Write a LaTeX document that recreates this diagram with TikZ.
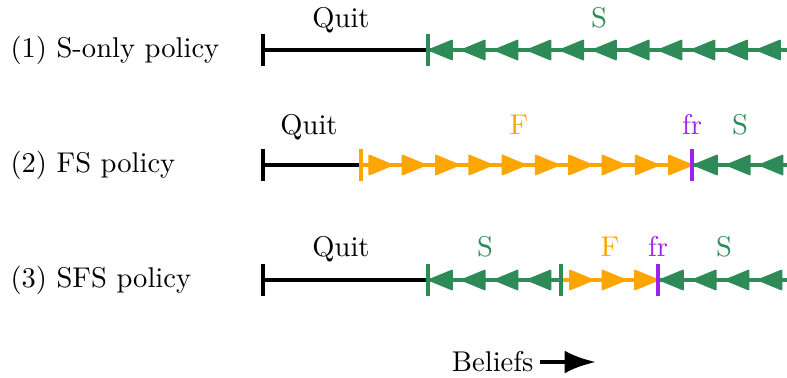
\documentclass[tikz,border=0pt]{standalone}
\usetikzlibrary{arrows.meta}
\definecolor{sgreen}{RGB}{46,139,87}
\definecolor{sorange}{RGB}{255,165,0}
\definecolor{spurple}{RGB}{160,32,240}
\tikzset{
  quitline/.style={line width=1.4pt, black},
  segline/.style={line width=1.1pt},
  tickmark/.style={line width=1.4pt},
  lbl/.style={inner sep=0pt, anchor=base},
  rowlbl/.style={inner sep=0pt, anchor=west},
  tri/.style={line width=0.6pt, line join=round},
}
% left-pointing triangle with its tip at (#1,#2)
\newcommand{\ltri}[3]{\filldraw[tri, #3] (#1+1,#2) -- ++(23,-9.5) -- ++(0,19) -- cycle;}
% right-pointing triangle with its tip at (#1,#2)
\newcommand{\rtri}[3]{\filldraw[tri, #3] (#1-1,#2) -- ++(-23,-9.5) -- ++(0,19) -- cycle;}
\newcommand{\vtick}[3]{\draw[tickmark, #3] (#1,#2-16) -- (#1,#2+16);}
\begin{document}
\begin{tikzpicture}[x=0.35pt, y=-0.35pt]
\useasboundingbox (0,0) rectangle (787,378);

% ---- row 1: S-only policy
\node[rowlbl] (r1) at (10,50) {(1) S-only policy};
\draw[quitline] (263,50) -- (428,50);
\draw[segline, sgreen] (428,50) -- (787,50);
\foreach \k in {0,...,10} { \ltri{428+\k*32.8}{50}{sgreen} }
\vtick{263}{50}{black}
\vtick{428}{50}{sgreen}
\node[lbl] (q1) at (341,27) {Quit};
\node[lbl, text=sgreen] (s1) at (599,27) {S};

% ---- row 2: FS policy
\node[rowlbl] (r2) at (10,165) {(2) FS policy};
\draw[quitline] (263,165) -- (361,165);
\draw[segline, sorange] (361,165) -- (693,165);
\draw[segline, sgreen] (693,165) -- (787,165);
\foreach \k in {0,...,9} { \rtri{693-\k*33.3}{165}{sorange} }
\foreach \k in {0,...,2} { \ltri{693+\k*32.8}{165}{sgreen} }
\vtick{263}{165}{black}
\vtick{361}{165}{sorange}
\vtick{692}{165}{spurple}
\node[lbl] (q2) at (309,134) {Quit};
\node[lbl, text=sorange] (f2) at (519,134) {F};
\node[lbl, text=spurple] (fr2) at (692,134) {fr};
\node[lbl, text=sgreen] (s2) at (740,134) {S};

% ---- row 3: SFS policy
\node[rowlbl] (r3) at (10,280) {(3) SFS policy};
\draw[quitline] (263,280) -- (428,280);
\draw[segline, sgreen] (428,280) -- (561,280);
\draw[segline, sorange] (561,280) -- (659,280);
\draw[segline, sgreen] (659,280) -- (787,280);
\foreach \k in {0,...,3} { \ltri{428+\k*32.8}{280}{sgreen} }
\foreach \k in {0,...,2} { \rtri{659-\k*32.5}{280}{sorange} }
\foreach \k in {0,...,3} { \ltri{659+\k*32.8}{280}{sgreen} }
\vtick{263}{280}{black}
\vtick{428}{280}{sgreen}
\vtick{561}{280}{sgreen}
\vtick{658}{280}{spurple}
\node[lbl] (q3) at (341,256) {Quit};
\node[lbl, text=sgreen] (s3a) at (485,256) {S};
\node[lbl, text=sorange] (f3) at (610,256) {F};
\node[lbl, text=spurple] (fr3) at (658,256) {fr};
\node[lbl, text=sgreen] (s3b) at (724,256) {S};

% ---- axis direction
\node[inner sep=0pt, anchor=east] (bel) at (534,362) {Beliefs};
\coordinate (belend) at (596,362);
\draw[line width=1.6pt, -{Latex[length=11pt,width=8pt]}] ([xshift=2pt]bel.east) -- (belend);
\end{tikzpicture}
\end{document}
